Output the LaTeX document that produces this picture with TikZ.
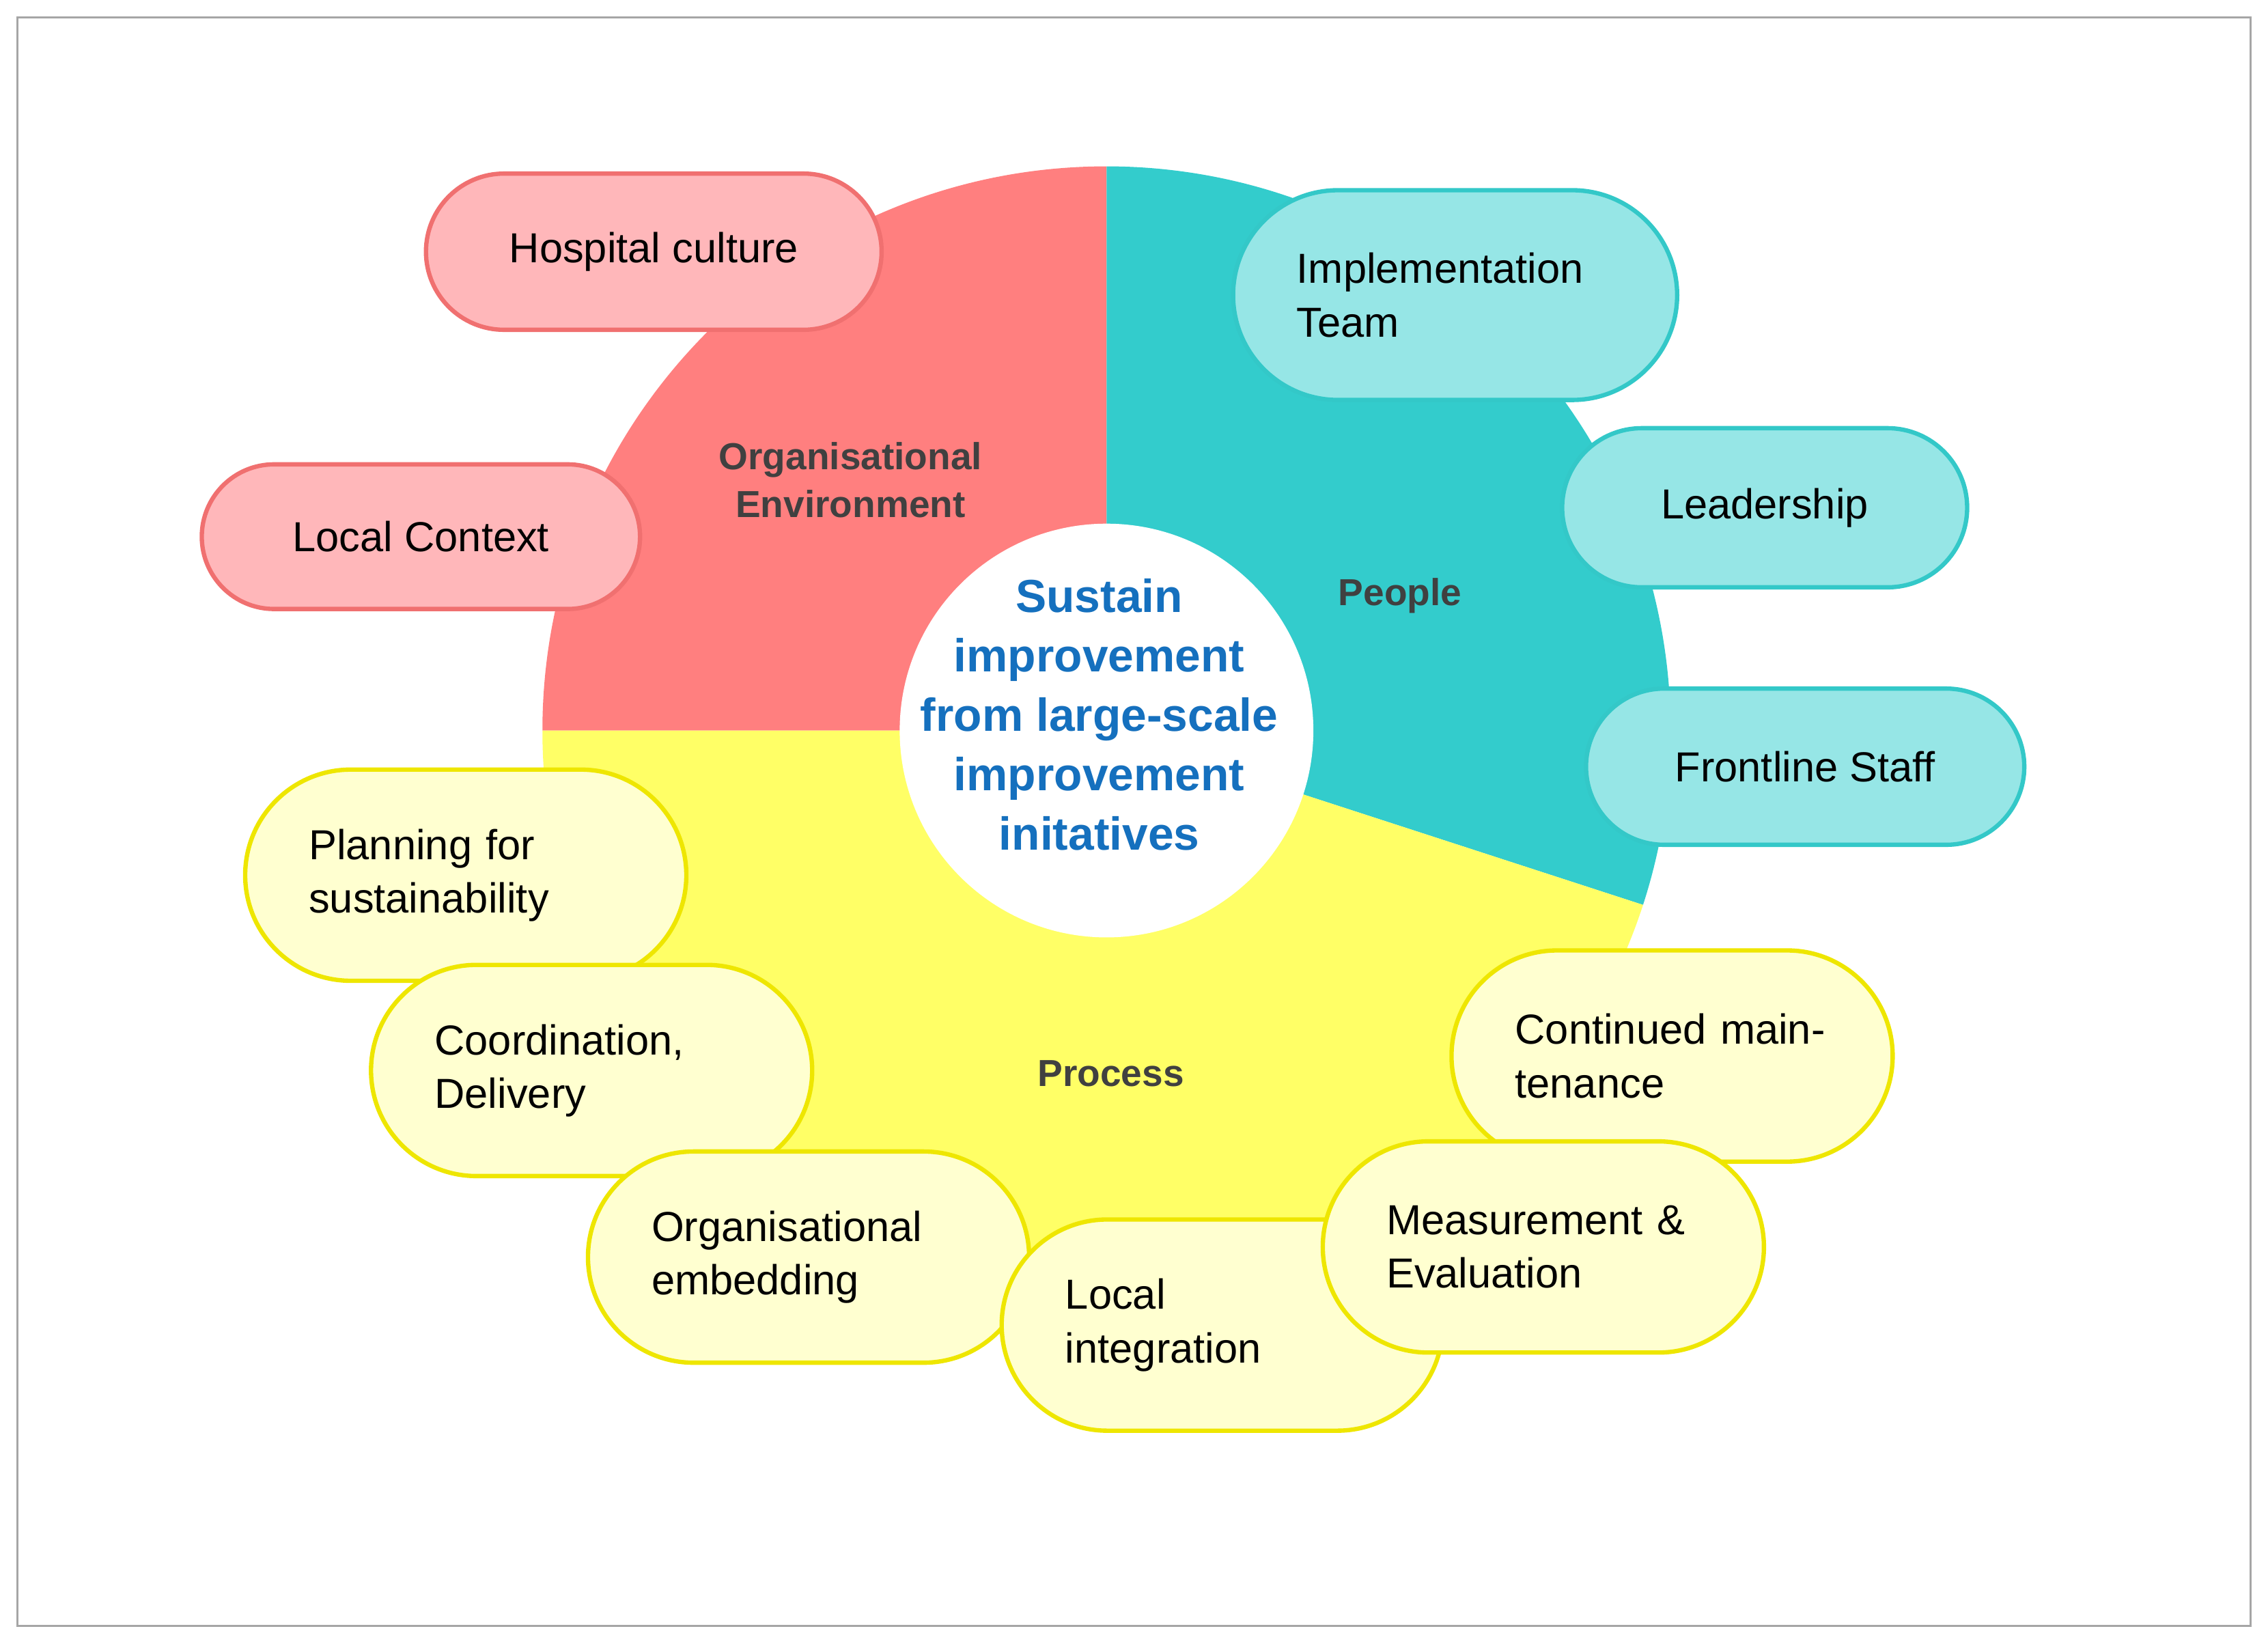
\documentclass[tikz,border=0pt]{standalone}
\usepackage{fontspec}
\setmainfont{Liberation Sans}
\definecolor{redS}{HTML}{FF7F7F}
\definecolor{tealS}{HTML}{33CCCC}
\definecolor{yelS}{HTML}{FFFF66}
\definecolor{redF}{HTML}{FFB7BA}
\definecolor{redD}{HTML}{F07070}
\definecolor{tealF}{HTML}{96E6E6}
\definecolor{tealD}{HTML}{33C8C8}
\definecolor{yelF}{HTML}{FFFFD0}
\definecolor{yelD}{HTML}{EEE600}
\definecolor{blueT}{HTML}{1570BE}
\definecolor{grayT}{HTML}{404040}
\begin{document}
\begin{tikzpicture}[x=1pt,y=1pt,
 pill/.style n args={3}{draw=#3,fill=#2,line width=3pt,minimum height=#1,rounded corners=#1/2,inner ysep=0pt,font=\fontsize{29}{37}\selectfont},
 one/.style={minimum width=#1,align=center,inner xsep=0pt},
 two/.style={text width=#1-88,align=left,inner xsep=44pt},
 lab/.style={font=\fontsize{26}{33}\selectfont\bfseries,text=grayT,align=center}]
\useasboundingbox (0,0) rectangle (1568,1136);
\draw[gray!70,line width=1.2pt] (12,12) rectangle (1556,1124);
\coordinate (c) at (765,631);
\fill[redS] (c) -- ++(90:390) arc(90:180:390) -- cycle;
\fill[tealS] (c) -- ++(90:390) arc(90:-18:390) -- cycle;
\fill[yelS] (c) -- ++(180:390) arc(180:342:390) -- cycle;
\node[circle,fill=white,minimum size=286pt] (hub) at (c) {};
\node[font=\fontsize{32}{41}\selectfont\bfseries,text=blueT,align=center] (ctext) at (760,642) {Sustain\\improvement\\from large-scale\\improvement\\initatives};
\node[lab] (oe) at (588,804) {Organisational\\Environment};
\node[lab] (pe) at (968,724) {People};
\node[lab] (pr) at (768,394) {Process};
% red
\node[pill={108pt}{redF}{redD},one=315pt] (hc) at (452,962) {Hospital culture};
\node[pill={100pt}{redF}{redD},one=303pt] (lc) at (291,765) {Local Context};
% teal
\node[pill={145pt}{tealF}{tealD},two=307pt] (it) at (1006,932) {Implementation Team};
\node[pill={110pt}{tealF}{tealD},one=280pt] (ld) at (1220,785) {Leadership};
\node[pill={108pt}{tealF}{tealD},one=303pt] (fs) at (1248,606) {Frontline Staff};
% yellow
\node[pill={146pt}{yelF}{yelD},two=305pt] (ps) at (322,531) {Planning for sustainability};
\node[pill={146pt}{yelF}{yelD},two=305pt] (cd) at (409,396) {Coordination, Delivery};
\node[pill={146pt}{yelF}{yelD},two=305pt] (oemb) at (559,267) {Organisational embedding};
\node[pill={146pt}{yelF}{yelD},two=305pt] (li) at (845,220) {Local\\integration};
\node[pill={146pt}{yelF}{yelD},two=305pt] (cm) at (1156,406) {Continued maintenance};
\node[pill={146pt}{yelF}{yelD},two=305pt] (me) at (1067,274) {Measurement \& Evaluation};
\end{tikzpicture}
\end{document}
